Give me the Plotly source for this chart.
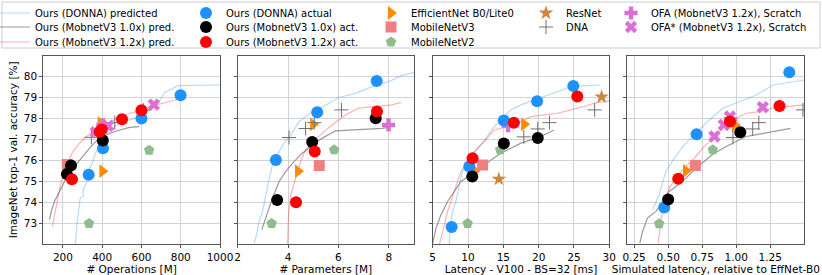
import plotly.graph_objects as go
from plotly.subplots import make_subplots

# ---------------- data ----------------
# Panel 1: # Operations [M]
ops_donna_pred = ([263, 271, 288, 302, 305, 316, 324, 336, 353, 362, 379, 404, 430, 464, 506, 574, 608, 643, 685, 719, 762, 787, 1000],
                  [72.0, 72.92, 74.19, 74.27, 74.67, 74.83, 75.15, 75.62, 75.94, 76.26, 76.58, 76.93, 77.30, 77.61, 77.85, 78.01, 78.17, 78.41, 78.73, 79.25, 79.44, 79.57, 79.6])
ops_mb10_pred = ([132, 140, 157, 174, 191, 217, 251, 285, 336, 370, 421, 472, 540, 588],
                 [73.16, 73.56, 74.03, 74.35, 74.67, 75.15, 75.62, 76.02, 76.58, 76.93, 77.22, 77.40, 77.57, 77.61])
ops_mb12_pred = ([146, 157, 174, 191, 208, 225, 251, 285, 319, 370, 421, 472, 540, 608, 677, 745, 787],
                 [72.84, 73.4, 74.19, 74.99, 75.62, 75.94, 76.42, 76.82, 77.14, 77.45, 77.69, 78.01, 78.25, 78.41, 78.65, 78.81, 78.92])
ops_donna_act = ([331, 404, 600, 799], [75.31, 76.58, 78.0, 79.11])
ops_mb10_act = ([220, 241, 403], [75.34, 75.75, 76.95])
ops_mb12_act = ([246, 387, 398, 501, 600], [75.1, 77.37, 77.47, 77.96, 78.39])
ops_effnet = ([401, 392], [75.48, 77.77])
ops_mbv3 = ([222], [75.8])
ops_mbv2 = ([333, 639], [72.98, 76.48])
ops_resnet = ([], [])
ops_dna = ([345, 406, 464, 611], [77.1, 77.5, 77.8, 78.4])
ops_ofa = ([404], [77.7])
ops_ofas = ([367, 430, 663], [77.34, 77.65, 78.66])

# Panel 2: # Parameters [M]
par_donna_pred = ([2.66, 2.75, 2.86, 2.99, 3.12, 3.25, 3.38, 3.58, 3.84, 4.11, 4.44, 4.77, 5.16, 5.75, 6.02, 6.67, 7.33, 7.99, 8.52, 9.0],
                  [72.04, 72.44, 73.08, 73.56, 74.35, 74.99, 75.78, 76.26, 76.82, 77.22, 77.85, 78.17, 78.41, 78.81, 79.0, 79.2, 79.52, 79.76, 80.05, 80.2])
par_mb10_pred = ([2.96, 3.12, 3.38, 3.65, 3.91, 4.24, 4.57, 4.96, 5.36, 5.89, 6.67, 7.73, 7.99],
                 [72.68, 73.24, 74.19, 74.99, 75.47, 75.94, 76.34, 76.71, 77.06, 77.41, 77.45, 77.53, 77.57])
par_mb12_pred = ([3.98, 4.02, 4.11, 4.31, 4.50, 4.70, 4.96, 5.36, 5.75, 6.28, 6.80, 7.46, 8.12, 8.49],
                 [71.96, 73.4, 74.35, 75.15, 75.94, 76.5, 76.82, 77.3, 77.69, 78.17, 78.49, 78.57, 78.65, 78.77])
par_donna_act = ([3.52, 5.16, 7.52], [76.02, 78.30, 79.79])
par_mb10_act = ([3.57, 4.96, 7.48], [74.1, 76.87, 78.01])
par_mb12_act = ([4.32, 5.06, 7.53], [74.0, 76.42, 78.33])
par_effnet = ([4.40, 5.0], [75.48, 77.72])
par_mbv3 = ([5.24], [75.75])
par_mbv2 = ([3.35, 5.83], [72.98, 76.5])
par_resnet = ([], [])
par_dna = ([4.04, 4.70, 5.04, 6.12], [77.09, 77.52, 77.8, 78.41])
par_ofa = ([7.99], [77.69])
par_ofas = ([], [])

# Panel 3: Latency - V100 - BS=32 [ms]
lat_donna_pred = ([7.35, 7.44, 7.82, 8.29, 8.76, 9.23, 9.94, 10.64, 11.82, 13.0, 13.71, 14.9, 16.06, 17.48, 18.89, 20.77, 22.66, 24.55, 26.43, 28.7],
                  [71.96, 72.76, 73.56, 74.03, 74.83, 75.47, 75.86, 76.26, 76.74, 77.3, 77.61, 78.01, 78.41, 78.65, 78.81, 79.05, 79.28, 79.52, 79.57, 79.6])
lat_mb10_pred = ([5.0, 5.47, 6.17, 7.11, 8.05, 9.0, 10.41, 11.82, 13.24, 14.65, 16.06, 17.48, 18.89, 20.3, 22.18],
                 [72.04, 72.76, 73.4, 74.03, 74.51, 74.99, 75.31, 75.62, 76.02, 76.34, 76.58, 76.82, 76.98, 77.14, 77.45])
lat_mb12_pred = ([5.94, 6.41, 7.11, 8.05, 9.0, 9.94, 10.88, 12.29, 13.71, 15.59, 17.48, 18.89, 20.77, 22.66, 24.55, 26.43, 28.31, 30.0],
                 [71.96, 72.6, 73.56, 74.51, 75.47, 75.94, 76.42, 76.9, 77.45, 77.61, 77.85, 78.09, 78.17, 78.25, 78.41, 78.57, 78.77, 78.84])
lat_donna_act = ([7.68, 10.18, 15.07, 19.78, 24.91], [72.81, 75.7, 77.9, 78.82, 79.55])
lat_mb10_act = ([10.6, 15.07, 19.87], [75.23, 76.80, 77.07])
lat_mb12_act = ([10.64, 16.49, 25.47], [76.1, 77.79, 79.05])
lat_effnet = ([10.93, 17.95], [75.5, 77.72])
lat_mbv3 = ([12.06], [75.78])
lat_mbv2 = ([9.94, 14.55], [72.98, 76.5])
lat_resnet = ([14.37, 28.91], [75.1, 79.03])
lat_dna = ([17.9, 19.87, 21.53, 27.92], [77.12, 77.5, 77.8, 78.41])
lat_ofa = ([15.68], [77.66])
lat_ofas = ([], [])

# Panel 4: Simulated latency, relative to EffNet-B0
sim_donna_pred = ([0.385, 0.434, 0.483, 0.545, 0.618, 0.717, 0.803, 0.901, 1.024, 1.147, 1.27, 1.5],
                  [73.64, 74.35, 75.47, 76.1, 76.74, 77.37, 77.93, 78.49, 78.81, 79.12, 79.6, 79.84])
sim_mb10_pred = ([0.292, 0.312, 0.348, 0.41, 0.459, 0.508, 0.557, 0.631, 0.705, 0.766, 0.828, 0.926, 1.0, 1.073, 1.172, 1.27, 1.343, 1.4],
                 [72.04, 72.6, 73.24, 73.56, 74.03, 74.51, 74.75, 75.15, 75.62, 75.94, 76.29, 76.66, 76.9, 77.14, 77.25, 77.37, 77.45, 77.53])
sim_mb12_pred = ([0.427, 0.447, 0.471, 0.508, 0.557, 0.618, 0.692, 0.754, 0.828, 0.901, 0.975, 1.073, 1.171, 1.27, 1.367, 1.5],
                 [72.04, 73.08, 74.03, 74.67, 75.15, 75.62, 76.1, 76.58, 77.06, 77.53, 77.93, 78.25, 78.33, 78.49, 78.57, 78.65])
sim_donna_act = ([0.471, 0.709, 1.39], [73.75, 77.25, 80.21])
sim_mb10_act = ([0.50, 1.03], [74.13, 77.34])
sim_mb12_act = ([0.574, 0.954, 1.318], [75.12, 77.85, 78.6])
sim_effnet = ([0.631, 0.99], [75.5, 77.69])
sim_mbv3 = ([0.70], [75.75])
sim_mbv2 = ([0.434, 0.828], [72.97, 76.5])
sim_resnet = ([], [])
sim_dna = ([0.976, 1.121, 1.166, 1.49], [77.09, 77.5, 77.8, 78.41])
sim_ofa = ([0.96], [77.95])
sim_ofas = ([0.84, 0.909, 0.954, 1.195], [77.14, 77.69, 78.09, 78.54])

x_titles = ["# Operations [M]", "# Parameters [M]", "Latency - V100 - BS=32 [ms]",
            "Simulated latency, relative to EffNet-B0"]
x_ranges = [[100, 1000], [2, 9], [5, 30], [0.2, 1.5]]
x_tickvals = [[200, 400, 600, 800, 1000], [2, 4, 6, 8], [5, 10, 15, 20, 25, 30], [0.25, 0.5, 0.75, 1.0, 1.25]]
x_ticktext = [["200", "400", "600", "800", "1000"], ["2", "4", "6", "8"], ["5", "10", "15", "20", "25", "30"],
              ["0.25", "0.50", "0.75", "1.00", "1.25"]]
y_tickvals = [73, 74, 75, 76, 77, 78, 79, 80]
y_title = "ImageNet top-1 val. accuracy [%]"

panels = [
    dict(pred=[ops_donna_pred, ops_mb10_pred, ops_mb12_pred], act=[ops_donna_act, ops_mb10_act, ops_mb12_act],
         base=[ops_effnet, ops_mbv3, ops_mbv2, ops_resnet, ops_dna, ops_ofa, ops_ofas]),
    dict(pred=[par_donna_pred, par_mb10_pred, par_mb12_pred], act=[par_donna_act, par_mb10_act, par_mb12_act],
         base=[par_effnet, par_mbv3, par_mbv2, par_resnet, par_dna, par_ofa, par_ofas]),
    dict(pred=[lat_donna_pred, lat_mb10_pred, lat_mb12_pred], act=[lat_donna_act, lat_mb10_act, lat_mb12_act],
         base=[lat_effnet, lat_mbv3, lat_mbv2, lat_resnet, lat_dna, lat_ofa, lat_ofas]),
    dict(pred=[sim_donna_pred, sim_mb10_pred, sim_mb12_pred], act=[sim_donna_act, sim_mb10_act, sim_mb12_act],
         base=[sim_effnet, sim_mbv3, sim_mbv2, sim_resnet, sim_dna, sim_ofa, sim_ofas]),
]

# ---------------- styles ----------------
# (name, colour, legend column, legend row)
pred_styles = [
    ("Ours (DONNA) predicted", "rgba(30,144,255,0.33)", 0, 0),
    ("Ours (MobnetV3 1.0x) pred.", "rgba(128,128,128,0.8)", 0, 1),
    ("Ours (MobnetV3 1.2x) pred.", "rgba(255,0,0,0.3)", 0, 2),
]
act_styles = [
    ("Ours (DONNA) actual", "#1E90FF", 1, 0),
    ("Ours (MobnetV3 1.0x) act.", "#000000", 1, 1),
    ("Ours (MobnetV3 1.2x) act.", "#FF0000", 1, 2),
]
base_styles = [
    ("EfficientNet B0/Lite0", "triangle-right", "#FF8C00", 12, 2, 0),
    ("MobileNetV3", "square", "#F08080", 11, 2, 1),
    ("MobileNetV2", "pentagon", "#8FBC8F", 11, 2, 2),
    ("ResNet", "star", "#CD853F", 11, 3, 0),
    ("DNA", "cross-thin", "#707070", 10, 3, 1),
    ("OFA (MobnetV3 1.2x), Scratch", "cross", "#DA70D6", 11, 4, 0),
    ("OFA* (MobnetV3 1.2x), Scratch", "x", "#DA70D6", 11, 4, 1),
]

W, H = 822, 275
col_text_x = [37, 228, 413, 568, 653]     # where legend text starts (px)
row_center_y = [13, 27, 42]               # legend row centres (px)
TEXT_OFF = 42                             # legend x -> text start offset
CENTER_OFF = 14.5                         # legend top -> first item centre

legend_layout = {}


def legend_id(col, row):
    k = col * 3 + row + 1
    key = "legend" if k == 1 else f"legend{k}"
    if key not in legend_layout:
        legend_layout[key] = dict(
            x=(col_text_x[col] - TEXT_OFF) / W, xanchor="left",
            y=1 - (row_center_y[row] - CENTER_OFF) / H, yanchor="top",
            orientation="v", bgcolor="rgba(0,0,0,0)",
            font=dict(size=10, family="DejaVu Sans", color="black"),
            tracegroupgap=0, itemsizing="trace")
    return key


fig = make_subplots(rows=1, cols=4)
shown = set()


def want_legend(name):
    if name in shown:
        return False
    shown.add(name)
    return True


for c, p in enumerate(panels, start=1):
    for (xs, ys), (name, col, lc, lr) in zip(p["pred"], pred_styles):
        fig.add_trace(go.Scatter(x=xs, y=ys, mode="lines", name=name, line=dict(color=col, width=1.2),
                                 legend=legend_id(lc, lr), showlegend=want_legend(name)), row=1, col=c)
    for (xs, ys), (name, sym, col, size, lc, lr) in zip(p["base"], base_styles):
        if sym == "cross-thin":
            mk = dict(symbol=sym, size=size, line=dict(color=col, width=1.0), color=col)
        else:
            mk = dict(symbol=sym, size=size, color=col, line=dict(width=0))
        fig.add_trace(go.Scatter(x=xs if xs else [None], y=ys if ys else [None], mode="markers", name=name,
                                 marker=mk, legend=legend_id(lc, lr),
                                 showlegend=(len(xs) > 0 and want_legend(name))), row=1, col=c)
    for (xs, ys), (name, col, lc, lr) in zip(p["act"], act_styles):
        fig.add_trace(go.Scatter(x=xs, y=ys, mode="markers", name=name,
                                 marker=dict(symbol="circle", size=12, color=col, line=dict(width=0)),
                                 legend=legend_id(lc, lr), showlegend=want_legend(name)), row=1, col=c)

dom_px = [(43.3, 220.0), (237.6, 414.0), (432.7, 609.3), (627.3, 804.3)]
y_dom = [(H - 244.0) / H, (H - 55.7) / H]

for i in range(4):
    ax = "xaxis" if i == 0 else f"xaxis{i + 1}"
    ay = "yaxis" if i == 0 else f"yaxis{i + 1}"
    fig.layout[ax].update(domain=[dom_px[i][0] / W, dom_px[i][1] / W], range=x_ranges[i],
                          tickvals=x_tickvals[i], ticktext=x_ticktext[i],
                          title=dict(text=x_titles[i], font=dict(size=10.5), standoff=2),
                          showgrid=True, gridcolor="#d3d3d3", gridwidth=1.2,
                          showline=True, linecolor="#555555", linewidth=1, mirror=True,
                          ticks="outside", ticklen=3, tickcolor="#555555",
                          tickfont=dict(size=10.5), zeroline=False, automargin=False)
    fig.layout[ay].update(domain=y_dom, range=[72, 81], tickvals=y_tickvals,
                          showticklabels=(i == 0),
                          showgrid=True, gridcolor="#d3d3d3", gridwidth=1.2,
                          showline=True, linecolor="#555555", linewidth=1, mirror=True,
                          ticks="outside", ticklen=3, tickcolor="#555555",
                          tickfont=dict(size=10.5), zeroline=False, automargin=False)
fig.layout.yaxis.title = dict(text=y_title, font=dict(size=10.5), standoff=4)

fig.update_layout(
    width=W, height=H, margin=dict(l=0, r=0, t=0, b=0, autoexpand=False),
    plot_bgcolor="white", paper_bgcolor="white",
    font=dict(family="DejaVu Sans", size=10, color="black"),
    shapes=[dict(type="rect", xref="paper", yref="paper", x0=2 / W, x1=820 / W, y0=1 - 48 / H, y1=1 - 2 / H,
                 line=dict(color="#cccccc", width=1), fillcolor="rgba(0,0,0,0)", layer="below")],
    **legend_layout,
)

fig.write_html("out.html", config={"displayModeBar": False},
               post_script="document.body.style.margin='0px';")
